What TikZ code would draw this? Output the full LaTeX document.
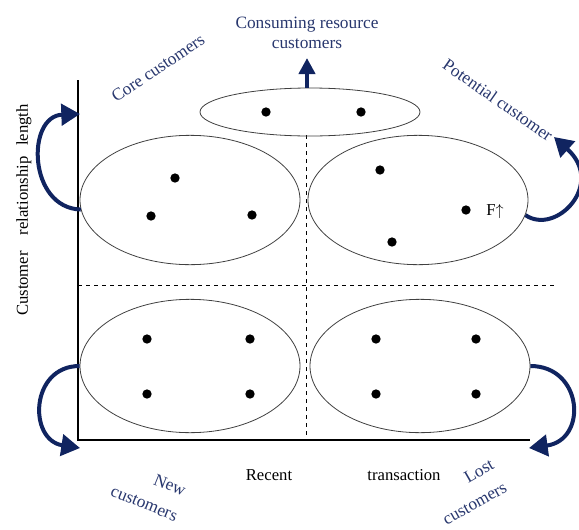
\documentclass[tikz,border=0pt]{standalone}
\usepackage{fontspec}
\setmainfont{Liberation Serif}
\usetikzlibrary{shapes.geometric,arrows.meta}
\definecolor{navy}{RGB}{16,36,96}
\definecolor{navytext}{RGB}{40,55,110}
\tikzset{
  group/.style={ellipse, draw=black!75, line width=0.6pt, inner sep=0pt},
  dot/.style={circle, fill=black, inner sep=0pt, minimum size=7pt},
  move/.style={draw=navy, line width=3pt, -{Triangle[length=14pt,width=16pt]}},
  label/.style={text=navytext, font=\fontsize{13}{15}\selectfont},
  axislabel/.style={font=\fontsize{12.5}{14}\selectfont}
}
\begin{document}
\begin{tikzpicture}[x=0.75pt, y=-0.75pt]
  \useasboundingbox (0,0) rectangle (579,529);
  % axes
  \coordinate (origin) at (78,440);
  \coordinate (ytop) at (78,80);
  \coordinate (xend) at (530,440);
  \draw[line width=1pt] (ytop) -- (origin) -- (xend);
  \draw[dashed, line width=0.6pt] (78,285) -- (555,285);
  \draw[dashed, line width=0.6pt] (306,135) -- (306,437);
  % groups
  \node[group, minimum width=165pt, minimum height=36pt] (top) at (310,112) {};
  \node[group, minimum width=165pt, minimum height=97pt] (tl) at (190,200) {};
  \node[group, minimum width=165pt, minimum height=97pt] (tr) at (418,200) {};
  \node[group, minimum width=165pt, minimum height=100pt] (bl) at (190,366) {};
  \node[group, minimum width=165pt, minimum height=100pt] (br) at (420,366) {};
  % customers
  \foreach \px/\py in {266/112, 361/112,
                      175/178, 151/216, 252/215,
                      380/170, 466/210, 392/242,
                      147/339, 250/339, 147/394, 250/394,
                      376/339, 476/339, 376/394, 476/394}
    \node[dot] at (\px,\py) {};
  \node[axislabel] (freq) at (495,211) {F$\uparrow$};
  % moves
  \coordinate (upend) at (307,58);
  \coordinate (tlend) at (80,114);
  \coordinate (blend) at (80,448);
  \coordinate (brend) at (529,448);
  \coordinate (trend) at (554,137);
  \draw[move, -{Triangle[length=12pt,width=12pt]}] (top.north -| upend) -- (upend);
  \draw[move] (tl.-175) .. controls (28,208) and (26,116) .. (tlend);
  \draw[move] (bl.west) .. controls (30,366) and (28,440) .. (blend);
  \draw[move] (br.east) .. controls (583,366) and (588,440) .. (brend);
  \draw[move] (tr.-8) .. controls (556,236) and (606,184) .. (trend);
  % labels
  \node[label, align=center] (consume) at (307,33) {Consuming resource\\customers};
  \node[label, rotate=34] (core) at (158,68) {Core customers};
  \node[label, rotate=-35] (potential) at (498,100) {Potential customer};
  \node[label, rotate=-22] (newa) at (170,485) {New};
  \node[label, rotate=-22] (newb) at (144,504) {customers};
  \node[label, rotate=30] (losta) at (479,471) {Lost};
  \node[label, rotate=29] (lostb) at (475,504) {customers};
  \node[axislabel, rotate=90] (ylab) at (24,210) {Customer\hspace{12pt}relationship\hspace{8pt}length};
  \node[axislabel] (recent) at (269,475) {Recent};
  \node[axislabel] (trans) at (404,475) {transaction};
\end{tikzpicture}
\end{document}
